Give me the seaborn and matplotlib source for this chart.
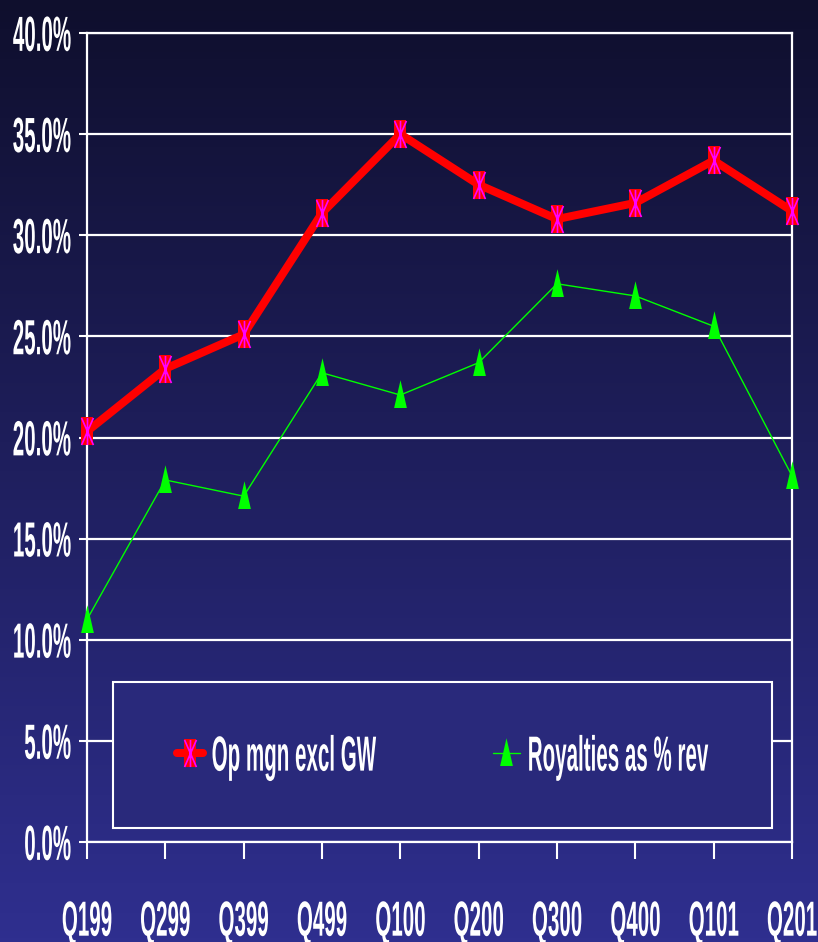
import numpy as np
import pandas as pd
import seaborn as sns
import matplotlib
matplotlib.use('Agg')
from matplotlib import pyplot as plt
from matplotlib.path import Path
from matplotlib.colors import LinearSegmentedColormap
from matplotlib.legend_handler import HandlerTuple
from matplotlib.ticker import PercentFormatter
from matplotlib.patheffects import AbstractPathEffect
from matplotlib.transforms import Affine2D

quarters = ['Q199', 'Q299', 'Q399', 'Q499', 'Q100', 'Q200', 'Q300', 'Q400', 'Q101', 'Q201']
op_mgn = [20.3, 23.4, 25.1, 31.1, 35.0, 32.5, 30.8, 31.6, 33.7, 31.2]
royalties = [11.0, 17.9, 17.1, 23.2, 22.1, 23.7, 27.6, 27.0, 25.5, 18.1]
series_names = ['Op mgn excl GW', 'Royalties as % rev']
y_ticks = [0, 5, 10, 15, 20, 25, 30, 35, 40]


class Tall(AbstractPathEffect):
    # stretch glyphs upward around the cap middle -> narrow bold look
    def __init__(self, sy=2.4):
        super().__init__()
        self.sy = sy

    def draw_path(self, renderer, gc, tpath, affine, rgbFace=None):
        tr = Affine2D().translate(0, -36).scale(1, self.sy).translate(0, 36) + affine
        renderer.draw_path(gc, tpath, tr, rgbFace)


sns.set_style('dark')
plt.rcParams['font.family'] = ['Liberation Sans', 'DejaVu Sans']
plt.rcParams['font.weight'] = 'bold'

W, H = 818, 942
fig = plt.figure(figsize=(W / 100, H / 100), dpi=100)

# gradient background
bg_cmap = LinearSegmentedColormap.from_list('bg', ['#0f0f2d', '#2f2f8f'])
bg = fig.add_axes([0, 0, 1, 1], zorder=-10)
bg.imshow(np.linspace(0, 1, 256).reshape(-1, 1), cmap=bg_cmap, aspect='auto',
          extent=[0, 1, 0, 1], origin='upper')
bg.axis('off')

ax = fig.add_axes([87 / W, 1 - 842 / H, 705 / W, 809 / H])
ax.set_facecolor('none')

# markers
rect = [(-0.22, -0.5), (0.22, -0.5), (0.22, 0.5), (-0.22, 0.5), (-0.22, -0.5)]
star = Path([(0, -0.5), (0, 0.5), (-0.22, -0.5), (0.22, 0.5), (-0.22, 0.5), (0.22, -0.5)],
            [Path.MOVETO, Path.LINETO, Path.MOVETO, Path.LINETO, Path.MOVETO, Path.LINETO])
tri = [(-0.23, -0.45), (0.23, -0.45), (0, 0.55), (-0.23, -0.45)]

sns.lineplot(x=quarters, y=op_mgn, sort=False, color='#ff0000', linewidth=5.8,
             marker=rect, markersize=19.5, markeredgewidth=0, ax=ax, clip_on=False, zorder=4)
sns.lineplot(x=quarters, y=op_mgn, sort=False, linewidth=0, marker=star, markersize=19.5,
             markeredgecolor='#ff00ff', markerfacecolor='none', markeredgewidth=1.2,
             ax=ax, clip_on=False, zorder=5)
sns.lineplot(x=quarters, y=royalties, sort=False, color='#00ff00', linewidth=1.0,
             marker=tri, markersize=22, markeredgewidth=0, ax=ax, clip_on=False, zorder=3)

ax.set_xlim(0, len(quarters) - 1)
ax.set_ylim(0, 40)
ax.set_yticks(y_ticks)
ax.yaxis.set_major_formatter(PercentFormatter(100, decimals=1))
ax.set_xlabel('')
ax.set_ylabel('')
ax.yaxis.grid(True, color='white', linewidth=1.6)
ax.xaxis.grid(False)
ax.set_axisbelow(True)
for s in ax.spines.values():
    s.set_visible(True)
    s.set_color('white')
    s.set_linewidth(1.6)

ax.tick_params(axis='y', direction='out', length=5.8, width=1.5, color='white',
               labelcolor='white', labelsize=14.8, pad=5.8, left=True)
ax.tick_params(axis='x', direction='out', length=12.2, width=1.5, color='white',
               labelcolor='white', labelsize=14.8, pad=37, bottom=True)
for t in ax.get_xticklabels() + ax.get_yticklabels():
    t.set_path_effects([Tall(2.4)])

lines = ax.get_lines()
leg = ax.legend([(lines[0], lines[1]), lines[2]], series_names,
                handler_map={tuple: HandlerTuple(ndivide=1)},
                loc='lower left', bbox_to_anchor=(113 / W, 1 - 828 / H),
                bbox_transform=fig.transFigure, borderaxespad=0, borderpad=3.1,
                ncol=2, columnspacing=5.7, handlelength=1.3, handletextpad=0.4,
                fontsize=14.8, frameon=True, fancybox=False, framealpha=1,
                facecolor=bg_cmap(754 / H), edgecolor='white')
leg.get_frame().set_linewidth(1.5)
for t in leg.get_texts():
    t.set_color('white')
    t.set_path_effects([Tall(2.4)])

fig.savefig('out.png', dpi=100)
